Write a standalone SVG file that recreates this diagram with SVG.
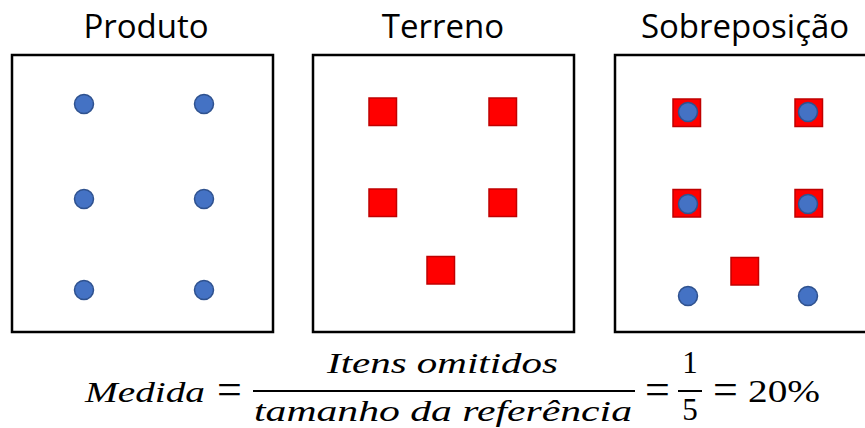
<svg xmlns="http://www.w3.org/2000/svg" width="865" height="428" viewBox="0 0 865 428">
<style>
.box{fill:#fff;stroke:#000;stroke-width:2.5}
.dot{fill:#4472C4;stroke:#2F528F;stroke-width:1.5}
.sq{fill:#FF0000;stroke:#C00000;stroke-width:1.5}
.title{font-family:"Open Sans","Liberation Sans",sans-serif;font-size:33px;fill:#000;text-anchor:middle}
.m{font-family:"Liberation Serif",serif;font-style:italic;font-size:30px;fill:#000}
.n{font-family:"Liberation Serif",serif;font-size:31px;fill:#000}
.eq{font-family:"Liberation Serif",serif;font-size:44px;fill:#000;text-anchor:middle}
.bar{stroke:#000;stroke-width:2}
</style>
<rect width="865" height="428" fill="#fff"/>
<g id="produto">
<text class="title" x="146" y="38">Produto</text>
<rect class="box" x="12" y="55" width="261" height="277"/>
<circle class="dot" cx="84" cy="104" r="9.5"/>
<circle class="dot" cx="204" cy="104" r="9.5"/>
<circle class="dot" cx="84" cy="199" r="9.5"/>
<circle class="dot" cx="204" cy="199" r="9.5"/>
<circle class="dot" cx="84" cy="290" r="9.5"/>
<circle class="dot" cx="204" cy="290" r="9.5"/>
</g>
<g id="terreno">
<text class="title" x="443" y="38">Terreno</text>
<rect class="box" x="313" y="55" width="261" height="277"/>
<rect class="sq" x="369" y="98" width="27.5" height="27.5"/>
<rect class="sq" x="489" y="98" width="27.5" height="27.5"/>
<rect class="sq" x="369" y="189" width="27.5" height="27.5"/>
<rect class="sq" x="489" y="189" width="27.5" height="27.5"/>
<rect class="sq" x="427" y="256.5" width="27.5" height="27.5"/>
</g>
<g id="sobreposicao">
<text class="title" x="745" y="38">Sobreposição</text>
<rect class="box" x="615" y="55" width="265" height="277"/>
<rect class="sq" x="673" y="99" width="27.5" height="27.5"/>
<rect class="sq" x="795" y="99" width="27.5" height="27.5"/>
<rect class="sq" x="673" y="189.5" width="27.5" height="27.5"/>
<rect class="sq" x="795" y="189.5" width="27.5" height="27.5"/>
<rect class="sq" x="731" y="257.5" width="27.5" height="27.5"/>
<circle class="dot" cx="688" cy="112" r="9.5"/>
<circle class="dot" cx="808" cy="112" r="9.5"/>
<circle class="dot" cx="688" cy="204" r="9.5"/>
<circle class="dot" cx="808" cy="204" r="9.5"/>
<circle class="dot" cx="688" cy="296" r="9.5"/>
<circle class="dot" cx="808" cy="296" r="9.5"/>
</g>
<g id="formula">
<text class="m" x="85" y="402" textLength="120" lengthAdjust="spacingAndGlyphs">Medida</text>
<text class="eq" x="229.5" y="404">=</text>
<text class="m" x="327" y="373" textLength="231" lengthAdjust="spacingAndGlyphs">Itens omitidos</text>
<line class="bar" x1="253" y1="391" x2="635" y2="391"/>
<text class="m" x="254" y="421" textLength="378" lengthAdjust="spacingAndGlyphs">tamanho da referência</text>
<text class="eq" x="657.5" y="404">=</text>
<text class="n" x="690" y="373" text-anchor="middle">1</text>
<line class="bar" x1="678" y1="391" x2="702" y2="391"/>
<text class="n" x="690" y="420" text-anchor="middle">5</text>
<text class="eq" x="725.5" y="404">=</text>
<text class="n" x="748" y="402" textLength="72" lengthAdjust="spacingAndGlyphs">20%</text>
</g>
</svg>
